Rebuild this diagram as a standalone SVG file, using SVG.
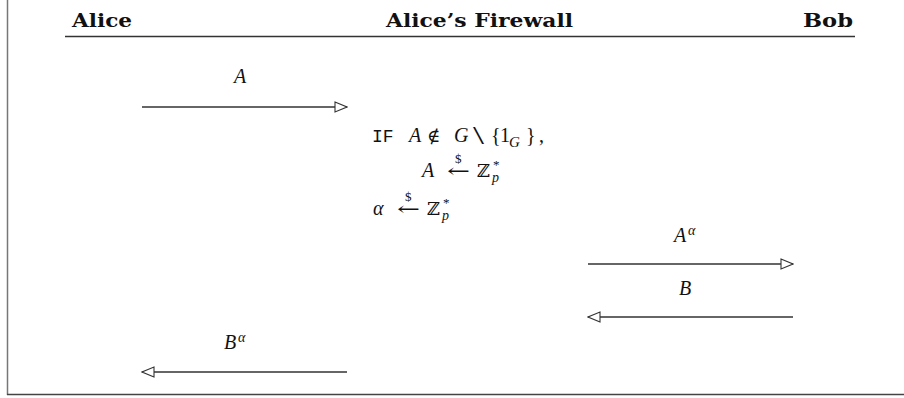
<svg xmlns="http://www.w3.org/2000/svg" width="904" height="398" viewBox="0 0 904 398">
<style>
.hdr{font-family:"DejaVu Serif","Liberation Serif",serif;font-weight:bold;font-size:19px;fill:#111}
.m{font-family:"Liberation Serif","DejaVu Serif",serif;font-style:italic;font-size:20px;fill:#111}
.rm{font-family:"Liberation Serif","DejaVu Serif",serif;font-size:20px;fill:#111}
.r{font-family:"DejaVu Serif","Liberation Serif",serif;font-size:18px;fill:#111}
.s{font-family:"Liberation Serif","DejaVu Serif",serif;font-style:italic;font-size:14px;fill:#111}
.sr{font-family:"Liberation Serif","DejaVu Serif",serif;font-size:13px;fill:#111}
.tt{font-family:"Liberation Mono","DejaVu Sans Mono",monospace;font-size:18px;fill:#111}
.ln{stroke:#333;stroke-width:1.3;fill:none}
</style>
<defs>
<marker id="tri" viewBox="0 0 14 12" refX="13" refY="6" markerWidth="14" markerHeight="12" markerUnits="userSpaceOnUse" orient="auto">
<path d="M1,1 L13,6 L1,11 Z" fill="#fff" stroke="#333" stroke-width="1.1"/>
</marker>
</defs>
<g id="frame">
<line x1="7.5" y1="0" x2="7.5" y2="395" stroke="#777" stroke-width="1.5"/>
<line x1="7" y1="394.5" x2="904" y2="394.5" stroke="#444" stroke-width="1.5"/>
</g>
<g id="alice"><text class="hdr" x="72" y="27" textLength="60" lengthAdjust="spacingAndGlyphs">Alice</text></g>
<g id="firewall"><text class="hdr" x="386" y="27" textLength="187" lengthAdjust="spacingAndGlyphs">Alice’s Firewall</text></g>
<g id="bob"><text class="hdr" x="803" y="27" textLength="50" lengthAdjust="spacingAndGlyphs">Bob</text></g>
<g id="header-line"><line x1="65" y1="36.5" x2="855" y2="36.5" stroke="#333" stroke-width="1.5"/></g>
<g id="firewall-computation">
<text class="tt" x="372" y="142">IF</text>
<text class="m" x="409" y="142">A</text>
<text class="r" x="427" y="142">∉</text>
<text class="m" x="454" y="142">G</text>
<text class="rm" x="473" y="144" style="font-size:25px" textLength="11" lengthAdjust="spacingAndGlyphs">\</text>
<text class="rm" x="491" y="142">{</text>
<text class="rm" x="500" y="142">1</text>
<text class="s" x="509" y="147" style="font-size:15px">G</text>
<text class="rm" x="526" y="142">}</text>
<text class="rm" x="539" y="142">,</text>
<text class="m" x="422" y="177">A</text>
<text class="r" x="447" y="177" textLength="23" lengthAdjust="spacingAndGlyphs">←</text>
<text class="sr" x="455" y="163">$</text>
<text class="r" x="477" y="177">ℤ</text>
<text class="sr" x="493" y="169">*</text>
<text class="s" x="492" y="182">p</text>
<text class="m" x="373" y="215">α</text>
<text class="r" x="397" y="215" textLength="23" lengthAdjust="spacingAndGlyphs">←</text>
<text class="sr" x="405" y="201">$</text>
<text class="r" x="427" y="215">ℤ</text>
<text class="sr" x="443" y="207">*</text>
<text class="s" x="442" y="220">p</text>
</g>
<g id="connectors">
<line class="ln" x1="142" y1="107" x2="347" y2="107" marker-end="url(#tri)"/>
<line class="ln" x1="588" y1="264" x2="793" y2="264" marker-end="url(#tri)"/>
<line class="ln" x1="793" y1="317" x2="588" y2="317" marker-end="url(#tri)"/>
<line class="ln" x1="347" y1="372" x2="142" y2="372" marker-end="url(#tri)"/>
</g>
<g id="labels">
<text class="m" x="234" y="83">A</text>
<text class="m" x="674" y="242">A</text>
<text class="s" x="688" y="235">α</text>
<text class="m" x="679" y="295">B</text>
<text class="m" x="224" y="349">B</text>
<text class="s" x="238" y="342">α</text>
</g>
</svg>
